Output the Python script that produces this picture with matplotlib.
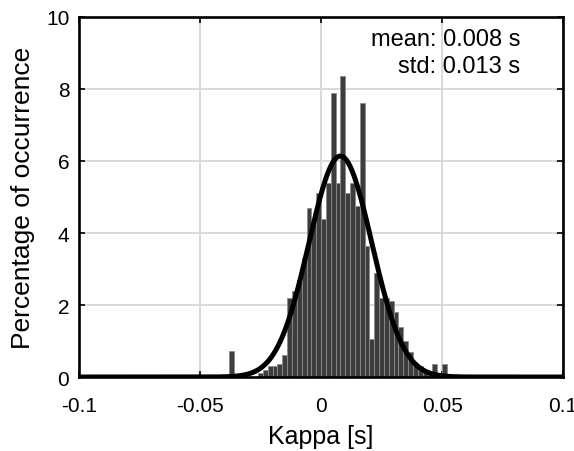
import matplotlib
matplotlib.use("Agg")
import matplotlib.pyplot as plt
import numpy as np
from matplotlib.ticker import FixedLocator, FixedFormatter

# data
bin_width = 0.002
percent = [0.72, 0, 0, 0, 0, 0, 0.1, 0.2, 0.3, 0.3,
           0.35, 0.6, 2.2, 2.4, 2.7, 3.3, 4.7, 4.4, 5.1, 4.4,
           5.4, 7.9, 5.4, 8.35, 5.1, 5.4, 4.75, 7.6, 3.65, 1.05,
           2.9, 2.2, 2.2, 2.1, 1.8, 1.4, 1.0, 0.7, 0.4, 0.3,
           0.2, 0.1, 0.35, 0, 0.35]
bin_left = np.round(-0.038 + bin_width * np.arange(len(percent)), 4)
fit_mean = 0.008
fit_std = 0.013
x_ticks = [-0.1, -0.05, 0, 0.05, 0.1]
x_tick_labels = ["-0.1", "-0.05", "0", "0.05", "0.1"]
y_ticks = [0, 2, 4, 6, 8, 10]


def main() -> None:
    plt.rcParams["font.family"] = ["Liberation Sans", "DejaVu Sans"]
    fig = plt.figure(figsize=(5.74, 4.52), dpi=100)
    ax = fig.add_axes([0.1376, 0.1637, 0.8434, 0.7965])

    ax.bar(bin_left, percent, width=bin_width, align="edge",
           color="#3d3d3d", edgecolor="#8c8c8c", linewidth=0.6, zorder=2)

    # normal fit scaled to percent per bin
    xs = np.linspace(-0.1, 0.1, 801)
    pdf = np.exp(-0.5 * ((xs - fit_mean) / fit_std) ** 2) / (fit_std * np.sqrt(2 * np.pi))
    ax.plot(xs, pdf * bin_width * 100, color="black", linewidth=3.6, zorder=3)

    ax.set_xlim(-0.1, 0.1)
    ax.set_ylim(0, 10)
    ax.xaxis.set_major_locator(FixedLocator(x_ticks))
    ax.xaxis.set_major_formatter(FixedFormatter(x_tick_labels))
    ax.set_yticks(y_ticks)
    ax.grid(True, color="#d9d9d9", linewidth=1.4, zorder=0)
    ax.set_axisbelow(True)
    ax.tick_params(direction="in", top=True, right=True, length=4, width=1.2,
                   labelsize=15)
    ax.tick_params(axis="x", pad=14)
    ax.tick_params(axis="y", pad=7)
    for sp in ax.spines.values():
        sp.set_linewidth(1.9)

    ax.set_xlabel("Kappa [s]", fontsize=18, labelpad=6)
    ax.set_ylabel("Percentage of occurrence", fontsize=19, labelpad=8)

    ax.text(0.912, 0.94, f"mean: {fit_mean:.3f} s", transform=ax.transAxes,
            ha="right", va="center", fontsize=17)
    ax.text(0.912, 0.865, f"std: {fit_std:.3f} s", transform=ax.transAxes,
            ha="right", va="center", fontsize=17)

    fig.savefig("out.png", dpi=100)
    plt.close(fig)


if __name__ == "__main__":
    main()
